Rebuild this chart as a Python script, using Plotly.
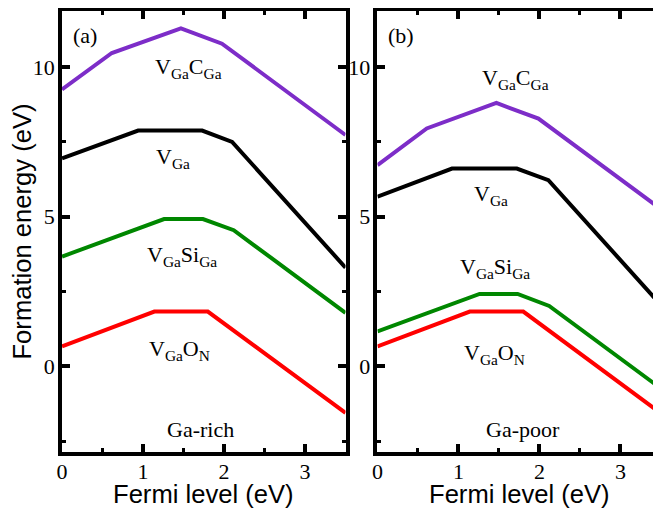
import plotly.graph_objects as go

# ---------------- data ----------------
# Panel (a): Ga-rich
fermi_a_vc = [0, 0.615, 1.468, 1.975, 3.5]
energy_a_vc = [9.25, 10.47, 11.29, 10.78, 7.73]
fermi_a_v = [0, 0.94, 1.73, 2.10, 3.5]
energy_a_v = [6.95, 7.88, 7.88, 7.50, 3.30]
fermi_a_vsi = [0, 1.26, 1.74, 2.12, 3.5]
energy_a_vsi = [3.67, 4.92, 4.92, 4.55, 1.79]
fermi_a_vo = [0, 1.14, 1.80, 3.5]
energy_a_vo = [0.67, 1.83, 1.83, -1.55]

# Panel (b): Ga-poor
fermi_b_vc = [0, 0.608, 1.468, 1.987, 3.5]
energy_b_vc = [6.72, 7.95, 8.80, 8.28, 5.25]
fermi_b_v = [0, 0.92, 1.72, 2.11, 3.5]
energy_b_v = [5.67, 6.61, 6.61, 6.22, 2.05]
fermi_b_vsi = [0, 1.26, 1.73, 2.12, 3.5]
energy_b_vsi = [1.17, 2.42, 2.42, 2.02, -0.74]
fermi_b_vo = [0, 1.14, 1.80, 3.5]
energy_b_vo = [0.67, 1.83, 1.83, -1.57]

defect_labels = ["V<sub>Ga</sub>C<sub>Ga</sub>", "V<sub>Ga</sub>",
                 "V<sub>Ga</sub>Si<sub>Ga</sub>", "V<sub>Ga</sub>O<sub>N</sub>"]
panel_labels = ["(a)", "(b)"]
condition_labels = ["Ga-rich", "Ga-poor"]
x_title = "Fermi level (eV)"
y_title = "Formation energy (eV)"

PURPLE = "rgb(125,45,200)"
BLACK = "black"
GREEN = "rgb(0,135,0)"
RED = "rgb(255,0,0)"
SERIF = "Liberation Serif"
SANS = "Liberation Sans"

fig = go.Figure()

series = [
    ("x", "y", fermi_a_vc, energy_a_vc, PURPLE),
    ("x", "y", fermi_a_v, energy_a_v, BLACK),
    ("x", "y", fermi_a_vsi, energy_a_vsi, GREEN),
    ("x", "y", fermi_a_vo, energy_a_vo, RED),
    ("x2", "y2", fermi_b_vc, energy_b_vc, PURPLE),
    ("x2", "y2", fermi_b_v, energy_b_v, BLACK),
    ("x2", "y2", fermi_b_vsi, energy_b_vsi, GREEN),
    ("x2", "y2", fermi_b_vo, energy_b_vo, RED),
]
for xa, ya, xs, ys, c in series:
    fig.add_trace(go.Scatter(x=xs, y=ys, xaxis=xa, yaxis=ya, mode="lines",
                             line=dict(color=c, width=4), showlegend=False,
                             hoverinfo="skip"))

common_x = dict(
    showline=True, linewidth=3.5, linecolor="black", mirror="ticks",
    ticks="inside", ticklen=8, tickwidth=3.5, tickcolor="black",
    tick0=0, dtick=1, range=[0, 3.5],
    minor=dict(ticks="inside", ticklen=4, tickwidth=3, dtick=0.5, tickcolor="black"),
    showgrid=False, zeroline=False,
    tickfont=dict(family=SERIF, size=22, color="black"),
    ticklabelstandoff=-3,
)
common_y = dict(
    showline=True, linewidth=3.5, linecolor="black", mirror="ticks",
    ticks="inside", ticklen=8, tickwidth=3.5, tickcolor="black",
    tick0=0, dtick=5,
    minor=dict(ticks="inside", ticklen=4, tickwidth=3, dtick=2.5, tickcolor="black"),
    showgrid=False, zeroline=False, range=[-2.86, 11.873],
    tickfont=dict(family=SERIF, size=22, color="black"),
    ticklabelstandoff=-1,
)

fig.update_layout(
    width=661, height=508,
    margin=dict(l=53.5, r=7.5, t=2.5, b=63.5, autoexpand=False),
    paper_bgcolor="white", plot_bgcolor="white",
    xaxis=dict(common_x, domain=[0, 0.47333], anchor="y"),
    xaxis2=dict(common_x, domain=[0.52667, 1], anchor="y2"),
    yaxis=dict(common_y, anchor="x",
               title=dict(text=y_title, font=dict(family=SANS, size=25.6, color="black"), standoff=6)),
    yaxis2=dict(common_y, anchor="x2"),
)

# x-axis titles (one per panel)
for xr, yr in [("x domain", "y domain"), ("x2 domain", "y2 domain")]:
    fig.add_annotation(xref=xr, yref=yr, x=0.5, y=0, text=x_title, showarrow=False,
                       font=dict(family=SANS, size=25.6, color="black"),
                       xanchor="center", yanchor="middle", yshift=-42)

ann = [
    ("x", "y", 1.56, 9.96, defect_labels[0]),
    ("x", "y", 1.37, 6.96, defect_labels[1]),
    ("x", "y", 1.48, 3.69, defect_labels[2]),
    ("x", "y", 1.45, 0.56, defect_labels[3]),
    ("x", "y", 0.29, 11.05, panel_labels[0]),
    ("x", "y", 1.71, -2.11, condition_labels[0]),
    ("x2", "y2", 1.71, 9.59, defect_labels[0]),
    ("x2", "y2", 1.40, 5.72, defect_labels[1]),
    ("x2", "y2", 1.45, 3.29, defect_labels[2]),
    ("x2", "y2", 1.45, 0.42, defect_labels[3]),
    ("x2", "y2", 0.29, 11.05, panel_labels[1]),
    ("x2", "y2", 1.80, -2.11, condition_labels[1]),
]
for xr, yr, x, y, t in ann:
    fig.add_annotation(xref=xr, yref=yr, x=x, y=y, text=t, showarrow=False,
                       font=dict(family=SERIF, size=22, color="black"),
                       xanchor="center", yanchor="middle")

fig.write_html("out.html")
